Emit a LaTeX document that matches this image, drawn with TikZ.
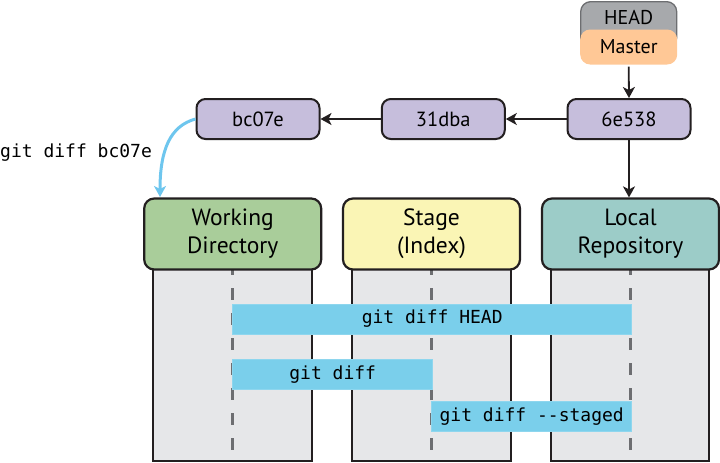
\documentclass[tikz,border=0pt]{standalone}
\usepackage{fontspec}
\setmainfont{PT Sans}
\setmonofont{DejaVu Sans Mono}
\usetikzlibrary{arrows.meta}
\definecolor{wdgreen}{HTML}{A9CD9A}
\definecolor{styellow}{HTML}{FAF5B5}
\definecolor{lrteal}{HTML}{9CCCC8}
\definecolor{colgray}{HTML}{E6E7E9}
\definecolor{barblue}{HTML}{7ACFEB}
\definecolor{commitlav}{HTML}{C6BEDC}
\definecolor{headgray}{HTML}{A7A9AC}
\definecolor{masterpeach}{HTML}{FFC896}
\definecolor{darkline}{HTML}{231F20}
\definecolor{dashgray}{HTML}{6D6E71}
\definecolor{curveblue}{HTML}{6EC6EE}
\tikzset{
  header/.style={draw=darkline, line width=2.2pt, rounded corners=10pt,
    minimum width=177pt, minimum height=71pt, inner sep=0pt, align=center,
    font=\fontsize{23.5}{28}\selectfont},
  column/.style={draw=darkline, line width=2.2pt, fill=colgray},
  lane/.style={draw=dashgray, line width=3.5pt, dash pattern=on 12pt off 13pt, dash phase=7pt},
  bar/.style={fill=barblue, draw=barblue!85!white, line width=0.6pt, minimum height=30pt, inner sep=0pt,
    font=\ttfamily\fontsize{18}{20}\selectfont},
  commit/.style={draw=darkline, line width=2pt, fill=commitlav, rounded corners=9pt,
    minimum width=123pt, minimum height=40pt, inner sep=0pt,
    font=\fontsize{20.5}{22}\selectfont},
  link/.style={draw=darkline, line width=1.8pt, -{Stealth[length=11pt,width=12pt,inset=3pt]}},
}
\begin{document}
\begin{tikzpicture}[x=1pt,y=-1pt]
\useasboundingbox (0,0) rectangle (720,463);
% columns
\draw[column] (153.3,262) rectangle (311.7,461);
\draw[column] (352.3,262) rectangle (510.7,461);
\draw[column] (551,262) rectangle (709.3,461);
% lanes
\coordinate (wdtop) at (232.7,270); \coordinate (wdbot) at (232.7,461);
\coordinate (sttop) at (431.7,270); \coordinate (stbot) at (431.7,461);
\coordinate (lrtop) at (630.7,270); \coordinate (lrbot) at (630.7,461);
\draw[lane] (wdtop) -- (wdbot);
\draw[lane] (sttop) -- (stbot);
\draw[lane] (lrtop) -- (lrbot);
% headers
\node[header, fill=wdgreen] (wd) at (232.7,234) {Working\\Directory};
\node[header, fill=styellow] (st) at (431.5,234) {Stage\\(Index)};
\node[header, fill=lrteal] (lr) at (630.5,234) {Local\\Repository};
% bars
\node[bar, minimum width=399pt] (dhead) at (432.2,319) {git diff HEAD};
\node[bar, minimum width=200pt] (ddiff) at (332.7,374.3) {git diff};
\node[bar, minimum width=200pt] (dstaged) at (531.7,416.7) {git diff -{}-staged};
% HEAD / Master
\node[draw=dashgray, line width=1.3pt, fill=headgray, rounded corners=10pt,
  minimum width=96pt, minimum height=46pt, inner sep=0pt, anchor=north] (headbox) at (628.7,1) {};
\node[font=\fontsize{20}{22}\selectfont] (headlbl) at (628.7,17) {HEAD};
\node[fill=masterpeach, rounded corners=10pt, minimum width=97pt, minimum height=35pt,
  inner sep=0pt, font=\fontsize{20}{22}\selectfont] (master) at (628.7,47) {Master};
% commits
\node[commit] (c3) at (629,119) {6e538};
\node[commit] (c2) at (443.3,119) {31dba};
\node[commit] (c1) at (258,119) {bc07e};
% arrows
\draw[link] (master.south) ++(0,2) -- (c3.north);
\draw[link] (c3) -- (c2);
\draw[link] (c2) -- (c1);
\draw[link] (c3.south) -- (c3.south |- lr.north);
\coordinate (curveend) at (160,197);
\draw[draw=curveblue, line width=3pt, -{Stealth[length=11pt,width=12pt,inset=3pt]}]
  (c1.west) .. controls (170,126) and (160,150) .. (curveend);
\node[anchor=west, inner sep=0pt, font=\ttfamily\fontsize{18}{20}\selectfont] (lbl) at (0,153) {git diff bc07e};
\end{tikzpicture}
\end{document}
